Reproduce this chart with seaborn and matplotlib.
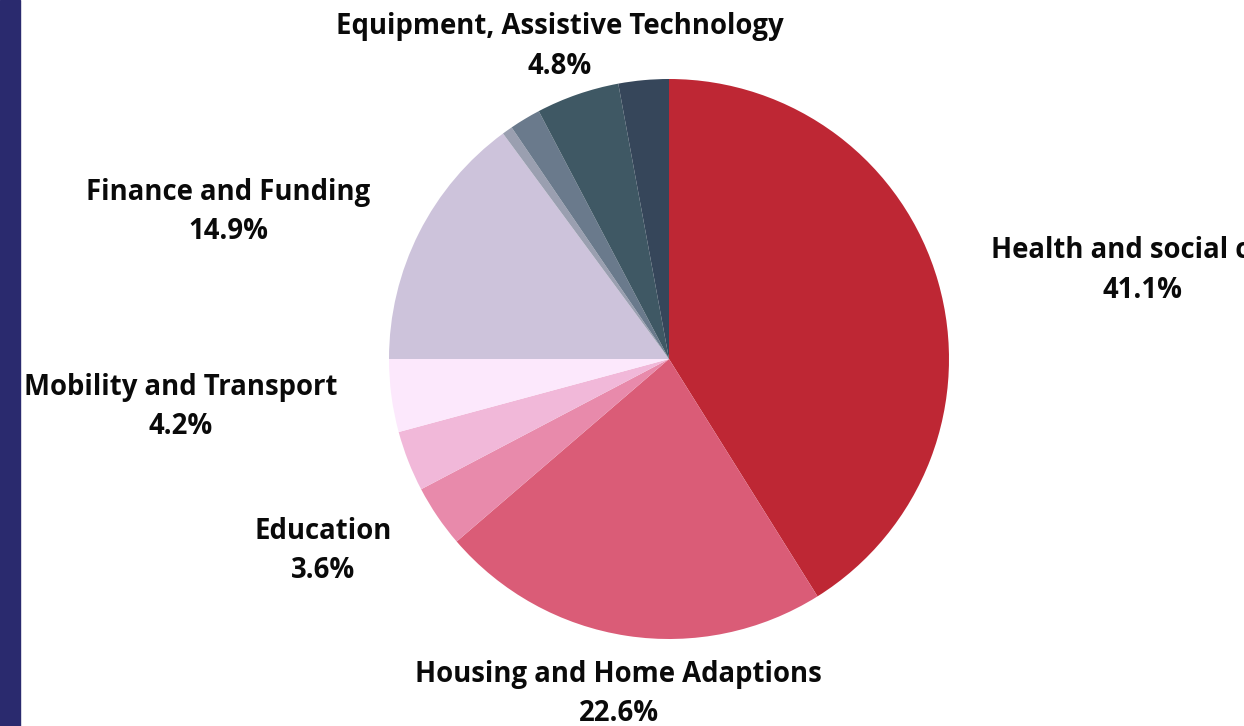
import numpy as np
import matplotlib.pyplot as plt
import seaborn as sns
from matplotlib.patches import Rectangle

sns.set_style('white')
plt.rcParams['font.family'] = ['Open Sans', 'DejaVu Sans']

categories = ['Health and social care', 'Housing and Home Adaptions', 'Education',
              'Other A', 'Mobility and Transport', 'Finance and Funding',
              'Other B', 'Other C', 'Equipment, Assistive Technology', 'Other D']
shares = [41.1, 22.6, 3.6, 3.5, 4.2, 14.9, 0.6, 1.8, 4.8, 2.9]
show_label = [True, True, True, False, True, True, False, False, True, False]
colors = ['#be2734', '#da5c77', '#e88aab', '#f1b8d9', '#fce8fc',
          '#cdc3db', '#9a9fb0', '#6a7a8c', '#3f5864', '#36465a']

W, H = 1244, 726
fig = plt.figure(figsize=(W / 100, H / 100), dpi=100)
fig.patches.append(Rectangle((0, 0), 20 / W, 1, transform=fig.transFigure,
                             color='#2a2a6e', zorder=0))

cx, cy, r = 669, 359, 280
ax = fig.add_axes([(cx - r) / W, (H - cy - r) / H, 2 * r / W, 2 * r / H])
wedges, _ = ax.pie(shares, colors=colors, startangle=90, counterclock=False,
                   wedgeprops=dict(linewidth=0))
ax.set_xlim(-1, 1)
ax.set_ylim(-1, 1)
ax.set_aspect('equal')
ax.axis('off')

# labels sit just outside the pie, pushed out along the slice's middle angle
for w, name, val, show in zip(wedges, categories, shares, show_label):
    if not show:
        continue
    mid = np.deg2rad((w.theta1 + w.theta2) / 2)
    x, y = 1.196 * np.cos(mid), 1.196 * np.sin(mid) - 0.014
    c = np.cos(mid)
    ha = 'left' if c > 0.5 else ('right' if c < -0.5 else 'center')
    ax.text(x, y, f'{name}\n{val}%', ha=ha, va='center', multialignment='center',
            fontsize=19.8, fontweight='bold', color='#0a0a0a',
            linespacing=1.48, clip_on=False)

fig.savefig('out.png', dpi=100)
